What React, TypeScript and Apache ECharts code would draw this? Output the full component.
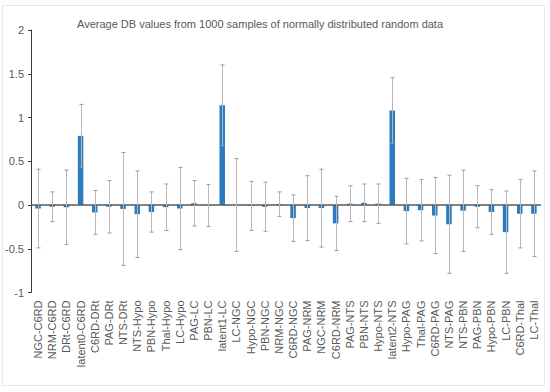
import React, { useEffect, useRef } from "react";
import * as echarts from "echarts";

const categories = [
  "NGC-C6RD", "NRM-C6RD", "DRt-C6RD", "latent0-C6RD", "C6RD-DRt", "PAG-DRt", "NTS-DRt",
  "NTS-Hypo", "PBN-Hypo", "Thal-Hypo", "LC-Hypo", "PAG-LC", "PBN-LC", "latent1-LC",
  "LC-NGC", "Hypo-NGC", "PBN-NGC", "NRM-NGC", "C6RD-NGC", "PAG-NRM", "NGC-NRM", "C6RD-NRM",
  "PAG-NTS", "PBN-NTS", "Hypo-NTS", "latent2-NTS", "Hypo-PAG", "Thal-PAG", "C6RD-PAG",
  "NTS-PAG", "NTS-PBN", "PAG-PBN", "Hypo-PBN", "LC-PBN", "C6RD-Thal", "LC-Thal",
];

const means = [
  -0.04, -0.02, -0.025, 0.79, -0.085, -0.02, -0.045,
  -0.105, -0.08, -0.025, -0.04, 0.02, -0.005, 1.14,
  0.0, -0.01, -0.02, 0.01, -0.15, -0.035, -0.035, -0.21,
  0.015, 0.025, 0.015, 1.08, -0.07, -0.06, -0.12,
  -0.22, -0.065, -0.02, -0.08, -0.31, -0.1, -0.1,
];

const errors = [
  0.45, 0.17, 0.425, 0.36, 0.25, 0.3, 0.645,
  0.495, 0.23, 0.265, 0.47, 0.26, 0.24, 0.46,
  0.53, 0.28, 0.28, 0.14, 0.265, 0.37, 0.445, 0.31,
  0.205, 0.215, 0.225, 0.375, 0.375, 0.35, 0.435,
  0.56, 0.465, 0.24, 0.255, 0.47, 0.39, 0.49,
];

const yTicks = { min: -1, max: 2, interval: 0.5 };

export default function App() {
  const ref = useRef<HTMLDivElement>(null);
  useEffect(() => {
    document.body.style.margin = "0";
    if (!ref.current) return;
    const chart = echarts.init(ref.current, undefined, { renderer: "svg" });
    const errData = categories.map((_, i) => [i, means[i] - errors[i], means[i] + errors[i]]);
    chart.setOption({
      animation: false,
      textStyle: { fontFamily: "'Liberation Sans', Arial, sans-serif" },
      title: {
        text: "Average DB values from 1000 samples of normally distributed random data",
        left: 72,
        top: 13,
        textStyle: { fontSize: 11, fontWeight: "normal", color: "#595959" },
      },
      graphic: [
        {
          type: "rect",
          shape: { x: 2.5, y: 5.5, width: 542, height: 380 },
          style: { fill: "none", stroke: "#e8e8e8", lineWidth: 1 },
          silent: true,
        },
      ],
      grid: { left: 31, right: 9, top: 30, bottom: 99.5, containLabel: false },
      xAxis: {
        type: "category",
        data: categories,
        axisLine: { show: false },
        axisTick: { show: false },
        axisLabel: {
          rotate: 90,
          interval: 0,
          fontSize: 11,
          color: "#595959",
          margin: 8,
        },
      },
      yAxis: {
        type: "value",
        min: yTicks.min,
        max: yTicks.max,
        interval: yTicks.interval,
        axisLine: { show: true, lineStyle: { color: "#3a3a3a", width: 1 } },
        axisTick: { show: true, length: 3, lineStyle: { color: "#3a3a3a" } },
        axisLabel: { fontSize: 11, color: "#595959", margin: 7 },
        splitLine: { show: false },
      },
      series: [
        {
          type: "bar",
          data: means,
          barWidth: 5.5,
          itemStyle: { color: "#2a7bbf" },
          markLine: {
            silent: true,
            symbol: "none",
            label: { show: false },
            lineStyle: { color: "#595959", type: "solid", width: 1.5 },
            data: [{ yAxis: 0 }],
          },
        },
        {
          type: "custom",
          data: errData,
          z: 10,
          renderItem: (params: any, api: any) => {
            const x = api.value(0);
            const lo = api.coord([x, api.value(1)]);
            const hi = api.coord([x, api.value(2)]);
            const cx = Math.round(lo[0]) + 0.5;
            const cap = 2;
            const style = { stroke: "#b8b8b8", lineWidth: 1 };
            const capStyle = { stroke: "#9a9a9a", lineWidth: 1 };
            return {
              type: "group",
              children: [
                { type: "line", shape: { x1: cx, y1: hi[1], x2: cx, y2: lo[1] }, style },
                { type: "line", shape: { x1: cx - cap, y1: hi[1], x2: cx + cap, y2: hi[1] }, style: capStyle },
                { type: "line", shape: { x1: cx - cap, y1: lo[1], x2: cx + cap, y2: lo[1] }, style: capStyle },
              ],
            };
          },
        },
      ],
    });
    return () => chart.dispose();
  }, []);
  return <div ref={ref} style={{ width: 550, height: 392, position: "absolute", left: 0, top: 0 }} />;
}
